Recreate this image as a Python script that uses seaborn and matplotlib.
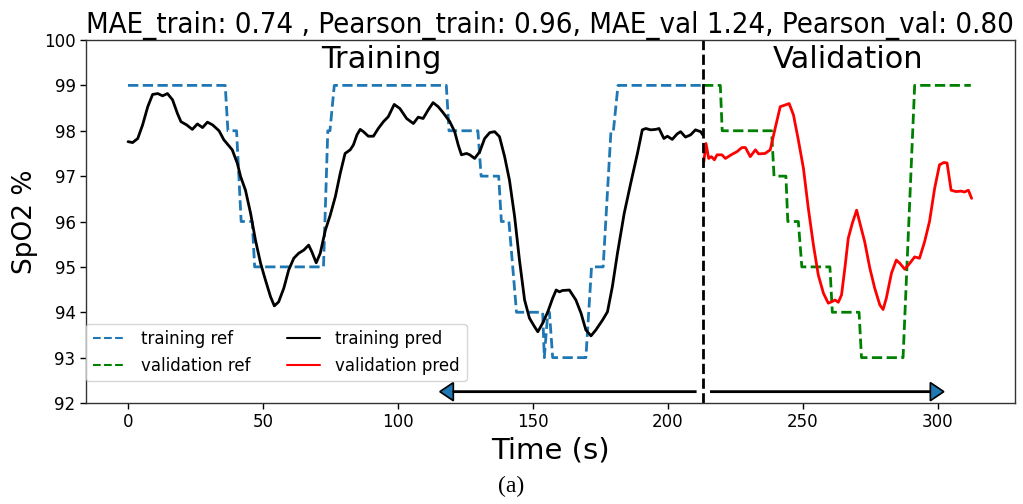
import matplotlib
matplotlib.use("Agg")
import matplotlib.pyplot as plt
from matplotlib import font_manager
from matplotlib.lines import Line2D
import seaborn as sns

# ---- data -------------------------------------------------------------
# reference SpO2 (step signal) for the training part
train_ref_t = [0, 36, 37, 40.2, 41.9, 46, 46.9, 72.4, 74, 74.8, 76.4, 117.9, 118.9,
               129.6, 130.8, 137.3, 138.3, 141.1, 143.9, 153.6, 154.2, 155.5, 156.1,
               157.3, 169.6, 171.7, 176, 178.9, 179.8, 181.5, 213]
train_ref_v = [99, 99, 98, 98, 96, 96, 95, 95, 98, 98, 99, 99, 98,
               98, 97, 97, 96, 96, 94, 94, 93, 94, 94,
               93, 93, 95, 95, 98, 98, 99, 99]

# reference SpO2 for the validation part
val_ref_t = [213, 219.4, 220.1, 238.4, 239.3, 243.7, 244.4, 248.3, 249.6, 260,
             260.9, 270.8, 271.7, 287.1, 291.4, 312.2]
val_ref_v = [99, 99, 98, 98, 97, 97, 96, 96, 95, 95, 94, 94, 93, 93, 99, 99]

# model prediction, training part
train_pred_t = [0, 1.7, 3.6, 5.4, 7.3, 9.1, 11.0, 12.8, 14.6, 16.5, 18.3, 19.6, 21.7,
                23.8, 25.7, 27.6, 29.4, 31.3, 33.7, 35.5, 38.6, 40.5, 41.7, 43.5,
                45.4, 47.2, 49.1, 50.9, 52.8, 54.2, 55.8, 57.7, 59.5, 61.4, 63.2,
                65.1, 66.9, 68.1, 69.7, 71.2, 73.1, 74.9, 76.8, 78.6, 80.4, 82.3,
                83.5, 84.8, 86.0, 87.2, 89.0, 90.9, 92.7, 94.6, 96.4, 98.6, 100.7,
                103.2, 105.7, 107.5, 109.3, 111.2, 113.0, 114.9, 116.7, 119.2,
                121.0, 122.3, 123.5, 125.4, 126.6, 128.4, 130.3, 132.1, 134.0,
                135.8, 137.6, 139.5, 141.3, 143.2, 145.0, 146.9, 148.7, 150.6,
                151.8, 153.6, 155.5, 157.3, 158.6, 159.8, 161.0, 163.5, 165.9,
                167.8, 169.6, 171.5, 173.3, 175.8, 177.6, 179.4, 181.3, 183.8,
                186.2, 188.7, 190.5, 191.8, 193.6, 195.5, 196.7, 198.5, 199.8,
                201.6, 203.4, 204.7, 206.5, 208.4, 210.2, 212.1, 212.9]
train_pred_v = [97.76, 97.74, 97.83, 98.13, 98.53, 98.80, 98.82, 98.77, 98.82, 98.68,
                98.38, 98.20, 98.13, 98.03, 98.15, 98.07, 98.19, 98.13, 98.00, 97.80,
                97.58, 97.28, 96.99, 96.69, 96.18, 95.59, 95.08, 94.71, 94.34, 94.14,
                94.23, 94.53, 94.93, 95.19, 95.30, 95.37, 95.48, 95.33, 95.09, 95.30,
                95.81, 96.14, 96.55, 97.06, 97.50, 97.58, 97.69, 97.91, 98.03, 97.98,
                97.88, 97.88, 98.05, 98.20, 98.31, 98.58, 98.49, 98.27, 98.16, 98.30,
                98.27, 98.46, 98.62, 98.53, 98.40, 98.20, 97.98, 97.69, 97.47, 97.50,
                97.47, 97.39, 97.54, 97.83, 97.96, 97.98, 97.87, 97.43, 96.91, 96.11,
                95.15, 94.27, 93.87, 93.68, 93.57, 93.76, 94.01, 94.31, 94.49, 94.45,
                94.48, 94.49, 94.27, 93.98, 93.61, 93.48, 93.61, 93.83, 94.01, 94.56,
                95.30, 96.18, 96.84, 97.50, 98.02, 98.05, 98.02, 98.03, 98.05, 97.83,
                97.88, 97.81, 97.93, 97.98, 97.86, 97.91, 98.02, 97.98, 97.91]

# model prediction, validation part
val_pred_t = [213.3, 214.1, 215.1, 216.1, 217.2, 218.2, 220.0, 221.3, 223.7, 225.6,
              227.4, 228.7, 230.5, 232.4, 233.6, 236.0, 237.9, 239.7, 241.6, 244.0,
              244.9, 246.5, 248.3, 250.2, 252.0, 253.9, 255.7, 257.6, 259.4, 260.6,
              261.9, 263.1, 264.3, 265.6, 266.8, 268.3, 269.9, 271.3, 272.9, 274.8,
              276.6, 278.5, 279.7, 280.9, 282.8, 284.6, 285.9, 287.7, 289.6, 291.4,
              293.2, 295.1, 296.9, 298.8, 300.6, 302.2, 303.4, 304.9, 306.7, 308.6,
              309.8, 311.3, 312.5]
val_pred_v = [97.32, 97.72, 97.39, 97.43, 97.36, 97.47, 97.47, 97.39, 97.48, 97.54,
              97.63, 97.63, 97.43, 97.58, 97.49, 97.50, 97.58, 98.05, 98.53, 98.58,
              98.60, 98.35, 97.80, 97.17, 96.29, 95.48, 94.82, 94.42, 94.20, 94.23,
              94.27, 94.22, 94.38, 95.00, 95.63, 95.96, 96.25, 95.92, 95.55, 94.97,
              94.53, 94.16, 94.06, 94.31, 94.86, 95.15, 95.08, 94.95, 95.08, 95.22,
              95.19, 95.56, 96.00, 96.73, 97.25, 97.30, 97.29, 96.69, 96.66, 96.67,
              96.65, 96.69, 96.51]

split_t = 213
x_ticks = [0, 50, 100, 150, 200, 250, 300]
y_ticks = [92, 93, 94, 95, 96, 97, 98, 99, 100]
title_text = "MAE_train: 0.74 , Pearson_train: 0.96, MAE_val 1.24, Pearson_val: 0.80"

# ---- style ------------------------------------------------------------
sns.set_style("ticks")
plt.rcParams["font.family"] = ["DejaVu Sans"]
plt.rcParams["text.color"] = "black"
plt.rcParams["axes.labelcolor"] = "black"
plt.rcParams["xtick.color"] = "black"
plt.rcParams["ytick.color"] = "black"

installed = {f.name for f in font_manager.fontManager.ttflist}
condensed_dejavu = any(f.name == "DejaVu Sans" and f.stretch in ("condensed", "semi-condensed")
                       for f in font_manager.fontManager.ttflist)
if "Liberation Sans Narrow" in installed:
    title_font = dict(family=["Liberation Sans Narrow", "DejaVu Sans"], fontsize=24.8)
elif condensed_dejavu:
    title_font = dict(family=["DejaVu Sans"], fontstretch="condensed", fontsize=21)
else:
    title_font = dict(family=["DejaVu Sans"], fontsize=17.5)

fig = plt.figure(figsize=(10.23, 5.04), dpi=100)
ax = fig.add_axes([0.084, 0.2004, 0.908, 0.7202])

lw = 2
sns.lineplot(x=train_ref_t, y=train_ref_v, ax=ax, color="#1f77b4", linestyle="--",
             lw=lw, estimator=None, sort=False)
sns.lineplot(x=train_pred_t, y=train_pred_v, ax=ax, color="black", lw=lw,
             estimator=None, sort=False)
sns.lineplot(x=val_ref_t, y=val_ref_v, ax=ax, color="green", linestyle="--",
             lw=lw, estimator=None, sort=False)
sns.lineplot(x=val_pred_t, y=val_pred_v, ax=ax, color="red", lw=lw,
             estimator=None, sort=False)

ax.axvline(split_t, color="black", linestyle="--", lw=2)

# span arrows for the two segments
ax.arrow(210.3, 92.25, 115.5 - 210.3, 0, width=0.025, head_width=0.4, head_length=5,
         length_includes_head=True, fc="#1f77b4", ec="black", lw=1.2, zorder=5)
ax.arrow(215.9, 92.25, 302.2 - 215.9, 0, width=0.025, head_width=0.4, head_length=5,
         length_includes_head=True, fc="#1f77b4", ec="black", lw=1.2, zorder=5)

ax.text(93.7, 99.38, "Training", fontsize=22, ha="center", va="baseline")
ax.text(266.8, 99.38, "Validation", fontsize=22, ha="center", va="baseline")

ax.set_ylim(92, 100)
ax.set_xlim(-15.6, 328.5)
ax.set_xticks(x_ticks)
ax.set_yticks(y_ticks)
ax.tick_params(labelsize=12, length=4, width=1)
for s in ax.spines.values():
    s.set_visible(True)
    s.set_linewidth(1)
    s.set_color("#333333")

ax.set_xlabel("Time (s)", fontsize=21)
ax.set_ylabel("SpO2 %", fontsize=19)
ax.set_title(title_text, pad=4, **title_font)

handles = [
    Line2D([], [], color="#1f77b4", linestyle="--", lw=1.5),
    Line2D([], [], color="green", linestyle="--", lw=1.5),
    Line2D([], [], color="black", lw=1.5),
    Line2D([], [], color="red", lw=1.5),
]
labels = ["training ref", "validation ref", "training pred", "validation pred"]
ax.legend(handles, labels, ncol=2, loc="lower left", fontsize=12,
          bbox_to_anchor=(0.0, 0.06), borderaxespad=0.0, frameon=True,
          columnspacing=2.2, handletextpad=0.9)

fig.text(0.5, 0.035, "(a)", ha="center", va="center", fontsize=17,
         family=["Liberation Serif", "DejaVu Serif"])

fig.savefig("out.png", dpi=100)
